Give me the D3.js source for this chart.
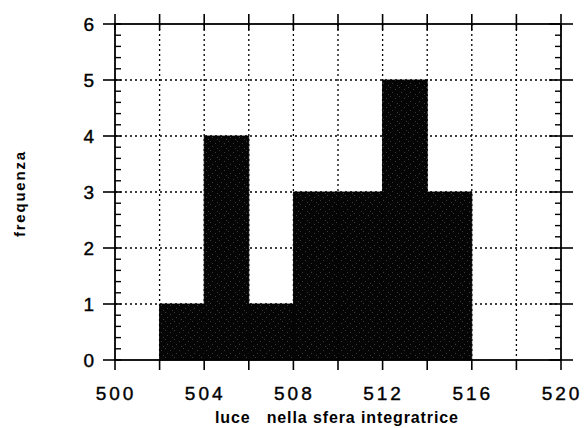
<!DOCTYPE html>
<html>
<head>
<meta charset="utf-8">
<script src="https://cdn.jsdelivr.net/npm/d3@7"></script>
<style>
  body { margin: 0; background: #fff; }
  text { font-family: "Liberation Sans", Arial, sans-serif; fill: #000; }
</style>
</head>
<body>
<div id="chart"></div>
<script>
// histogram data
var binEdges = [502, 504, 506, 508, 510, 512, 514, 516];
var counts = [1, 4, 1, 3, 3, 5, 3];
var xTickLabels = [500, 504, 508, 512, 516, 520];
var yTickLabels = [0, 1, 2, 3, 4, 5, 6];
var xLabel = "luce\u00a0\u00a0 nella sfera integratrice";
var yLabel = "frequenza";

var svgWidth = 584;
var svgHeight = 428;
var margin = { top: 24, right: 23, bottom: 68, left: 115 };
var width = svgWidth - margin.left - margin.right;
var height = svgHeight - margin.top - margin.bottom;

var svg = d3.select("#chart")
  .append("svg")
  .attr("width", svgWidth)
  .attr("height", svgHeight);

// speckled dark fill like the printed halftone
var defs = svg.append("defs");
var pat = defs.append("pattern")
  .attr("id", "speckle")
  .attr("patternUnits", "userSpaceOnUse")
  .attr("width", 9)
  .attr("height", 9);
pat.append("rect").attr("width", 9).attr("height", 9).attr("fill", "#050505");
[[1, 2], [5, 0], [7, 5], [3, 7]].forEach(function(p) {
  pat.append("rect").attr("x", p[0]).attr("y", p[1])
    .attr("width", 1).attr("height", 1).attr("fill", "#3a3a3a");
});

var chartGroup = svg.append("g")
  .attr("transform", `translate(${margin.left}, ${margin.top})`);

var x = d3.scaleLinear().domain([500, 520]).range([0, width]);
var y = d3.scaleLinear().domain([0, 6]).range([height, 0]);

// dotted grid
chartGroup.append("g").selectAll("line")
  .data(d3.range(502, 520, 2))
  .enter().append("line")
  .attr("x1", d => x(d)).attr("x2", d => x(d))
  .attr("y1", 0).attr("y2", height)
  .attr("stroke", "#000").attr("stroke-width", 1.3)
  .attr("stroke-dasharray", "2,3");

chartGroup.append("g").selectAll("line")
  .data(yTickLabels.slice(1, -1))
  .enter().append("line")
  .attr("x1", 0).attr("x2", width)
  .attr("y1", d => y(d)).attr("y2", d => y(d))
  .attr("stroke", "#000").attr("stroke-width", 1.3)
  .attr("stroke-dasharray", "2,3");

// bars
chartGroup.append("g").selectAll("rect")
  .data(counts)
  .enter().append("rect")
  .attr("x", (d, i) => x(binEdges[i]))
  .attr("width", (d, i) => x(binEdges[i + 1]) - x(binEdges[i]))
  .attr("y", d => y(d))
  .attr("height", d => height - y(d))
  .attr("fill", "url(#speckle)")
  .attr("stroke", "#000")
  .attr("stroke-width", 0.8);

// frame
chartGroup.append("rect")
  .attr("width", width).attr("height", height)
  .attr("fill", "none").attr("stroke", "#000").attr("stroke-width", 1.8);

// x ticks, every 2 units
var xt = d3.range(500, 522, 2);
chartGroup.append("g").selectAll("line")
  .data(xt).enter().append("line")
  .attr("x1", d => x(d)).attr("x2", d => x(d))
  .attr("y1", height).attr("y2", height + 10)
  .attr("stroke", "#000").attr("stroke-width", 1.6);
chartGroup.append("g").selectAll("line")
  .data(xt).enter().append("line")
  .attr("x1", d => x(d)).attr("x2", d => x(d))
  .attr("y1", -10).attr("y2", 6)
  .attr("stroke", "#000").attr("stroke-width", 1.6);

// y ticks: majors cross the axis, minors every 0.2 inside
var minor = d3.range(0, 6.01, 0.2).filter(d => Math.abs(d - Math.round(d)) > 0.01);
chartGroup.append("g").selectAll("line")
  .data(yTickLabels).enter().append("line")
  .attr("x1", -12).attr("x2", 6)
  .attr("y1", d => y(d)).attr("y2", d => y(d))
  .attr("stroke", "#000").attr("stroke-width", 1.6);
chartGroup.append("g").selectAll("line")
  .data(yTickLabels).enter().append("line")
  .attr("x1", width - 12).attr("x2", width + 12)
  .attr("y1", d => y(d)).attr("y2", d => y(d))
  .attr("stroke", "#000").attr("stroke-width", 1.6);
chartGroup.append("g").selectAll("line")
  .data(minor).enter().append("line")
  .attr("x1", 0).attr("x2", 6)
  .attr("y1", d => y(d)).attr("y2", d => y(d))
  .attr("stroke", "#000").attr("stroke-width", 1.4);
chartGroup.append("g").selectAll("line")
  .data(minor).enter().append("line")
  .attr("x1", width - 6).attr("x2", width)
  .attr("y1", d => y(d)).attr("y2", d => y(d))
  .attr("stroke", "#000").attr("stroke-width", 1.4);

// tick labels
chartGroup.append("g").selectAll("text")
  .data(xTickLabels).enter().append("text")
  .attr("x", d => x(d) + 1)
  .attr("y", height + 40)
  .attr("text-anchor", "middle")
  .style("font-size", "19px")
  .style("letter-spacing", "3px")
  .style("stroke", "#000").style("stroke-width", 0.4)
  .text(d => d);

chartGroup.append("g").selectAll("text")
  .data(yTickLabels).enter().append("text")
  .attr("x", -21)
  .attr("y", d => y(d))
  .attr("dy", "0.36em")
  .attr("text-anchor", "end")
  .style("font-size", "19px")
  .style("stroke", "#000").style("stroke-width", 0.4)
  .text(d => d);

// axis titles
chartGroup.append("text")
  .attr("x", 100)
  .attr("y", height + 63)
  .attr("textLength", 243)
  .attr("lengthAdjust", "spacing")
  .style("font-size", "16px")
  .style("font-weight", "bold")
  .text(xLabel);

chartGroup.append("text")
  .attr("transform", "rotate(-90)")
  .attr("x", -(height / 2) - 45)
  .attr("y", -margin.left + 25)
  .attr("textLength", 85)
  .attr("lengthAdjust", "spacing")
  .style("font-size", "15px")
  .style("font-weight", "bold")
  .text(yLabel);
</script>
</body>
</html>
